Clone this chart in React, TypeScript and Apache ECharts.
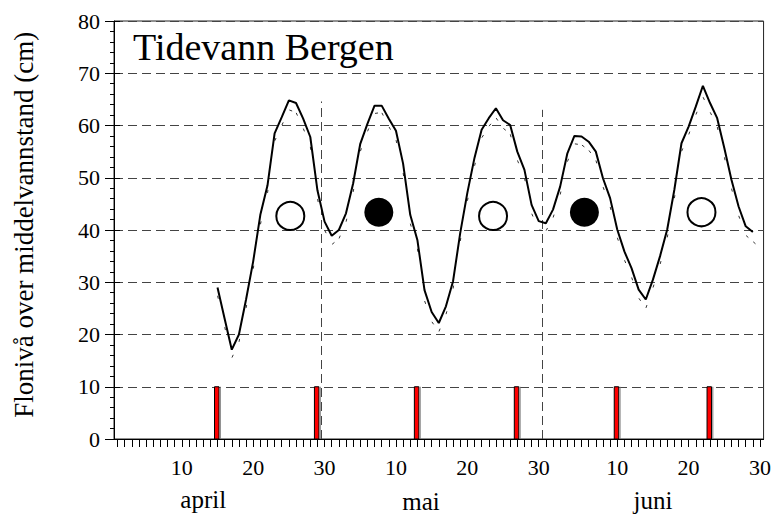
import React, { useEffect, useRef } from "react";
import * as echarts from "echarts";

// ---- data ----
const firstDay = 15; // day index (1 = 1 April)
const observedLevel = [
  29.0, 23.0, 17.1, 20.0, 26.7, 34.0, 42.9, 48.5, 58.5, 61.6,
  64.8, 64.3, 61.3, 57.8, 47.6, 41.6, 38.9, 40.0, 43.2, 48.9,
  56.5, 60.3, 63.8, 63.8, 61.3, 59.0, 52.7, 42.9, 38.1, 28.5,
  24.3, 22.2, 25.4, 30.2, 39.4, 47.1, 53.8, 59.2, 61.4, 63.3,
  61.0, 60.1, 55.0, 51.5, 44.8, 41.7, 41.3, 43.9, 48.3, 54.6,
  58.0, 57.9, 56.9, 55.0, 49.9, 46.1, 40.1, 35.9, 32.7, 28.6,
  26.7, 30.5, 35.0, 40.1, 47.7, 56.6, 59.8, 63.6, 67.6, 64.3,
  61.4, 55.7, 49.6, 44.5, 40.7, 39.6,
];
const predictedLevel = [
  27.5, 21.5, 15.5, 18.5, 25.0, 32.5, 41.0, 47.0, 57.0, 60.0,
  63.0, 62.5, 59.5, 56.0, 46.0, 40.0, 37.2, 38.3, 41.5, 47.2,
  55.0, 58.8, 62.3, 62.5, 59.8, 57.3, 51.0, 41.3, 36.5, 26.5,
  22.5, 20.5, 23.8, 28.7, 37.8, 45.5, 52.2, 57.6, 59.8, 61.5,
  59.5, 58.4, 53.4, 50.0, 43.2, 40.0, 39.8, 42.3, 46.7, 53.0,
  56.5, 56.3, 55.3, 53.4, 48.3, 44.5, 38.6, 34.3, 31.0, 27.0,
  25.0, 28.9, 33.4, 38.5, 46.0, 55.0, 58.2, 62.0, 65.5, 62.6,
  59.8, 54.0, 48.0, 42.8, 39.0, 37.8,
];
const phaseBarDays = [15, 29, 43, 57, 71, 84];
const phaseBarHeight = 10;
const fullMoonDays = [25.2, 53.6, 82.8];
const fullMoonLevels = [42.7, 42.7, 43.4];
const newMoonDays = [37.6, 66.4];
const newMoonLevels = [43.4, 43.4];
const monthBoundaryDays = [29.5, 60.5];
const monthBoundaryTops = [64.6, 63.0];
const totalDays = 91;
const tickLabelDays = [10, 20, 30, 40, 50, 60, 71, 81, 91];
const monthNames = ["april", "mai", "juni"];
const monthStartDays = [0, 30, 61];
const monthLabelDays = [13, 43.5, 76];
const monthLabelLevels = [-11.5, -11.9, -11.7];
const titleText = "Tidevann Bergen";
const yAxisName = "Flonivå over middelvannstand (cm)";

const SERIF = "Liberation Serif";

const dayOfMonth = (d: number) => {
  let m = 0;
  for (let i = 0; i < monthStartDays.length; i++) if (d > monthStartDays[i]) m = i;
  return d - monthStartDays[m];
};

export default function App() {
  const ref = useRef<HTMLDivElement>(null);
  useEffect(() => {
    if (!ref.current) return;
    const chart = echarts.init(ref.current, undefined, { renderer: "svg" });
    const dayIdx = observedLevel.map((_, i) => firstDay + i);
    const obsData = dayIdx.map((d, i) => [d, observedLevel[i]]);
    const predData = predictedLevel.map((v, i) => {
      const d = firstDay + i;
      if (i < predictedLevel.length - 1) return [d, v, d + 1, predictedLevel[i + 1]];
      const pv = predictedLevel[i - 1];
      return [d, v, d + 1, v + (v - pv)];
    });
    const catDays = Array.from({ length: totalDays }, (_, i) => String(i + 1));
    const labelSet = new Set(tickLabelDays);

    const option: any = {
      animation: false,
      backgroundColor: "#fff",
      textStyle: { fontFamily: SERIF },
      grid: { left: 114, top: 21, width: 650, height: 418, show: true, borderColor: "#222", borderWidth: 1, backgroundColor: "transparent" },
      xAxis: [
        {
          type: "value", min: 0.5, max: totalDays + 0.5,
          axisLine: { show: true, lineStyle: { color: "#000", width: 1 } },
          axisTick: { show: false }, axisLabel: { show: false }, splitLine: { show: false },
        },
        {
          type: "category", data: catDays, boundaryGap: true, position: "bottom",
          axisLine: { show: false },
          axisTick: { show: true, alignWithLabel: true, interval: 0, length: 8, lineStyle: { color: "#000", width: 1 } },
          axisLabel: {
            interval: (idx: number) => labelSet.has(idx + 1),
            formatter: (v: string) => String(dayOfMonth(Number(v))),
            fontSize: 22, fontFamily: SERIF, color: "#000", margin: 17,
          },
          splitLine: { show: false },
        },
      ],
      yAxis: [
        {
          type: "value", min: 0, max: 80, interval: 10,
          axisLine: { show: true, lineStyle: { color: "#000", width: 1 } },
          axisTick: { show: true, length: 9, lineStyle: { color: "#000" } },
          minorTick: { show: true, splitNumber: 5, length: 4, lineStyle: { color: "#000" } },
          axisLabel: { fontSize: 22, fontFamily: SERIF, color: "#000", margin: 14 },
          splitLine: { show: true, lineStyle: { color: "#444", width: 1, type: [9, 5] } },
        },
        {
          type: "value", min: 0, max: 80, interval: 10, position: "left",
          axisLine: { show: false },
          axisTick: { show: true, inside: true, length: 6, lineStyle: { color: "#000" } },
          axisLabel: { show: false }, splitLine: { show: false },
        },
      ],
      series: [
        {
          type: "line", xAxisIndex: 0, yAxisIndex: 0, data: obsData, symbol: "none", z: 5,
          lineStyle: { color: "#000", width: 2 },
          markLine: {
            silent: true, symbol: ["none", "none"], label: { show: false },
            lineStyle: { color: "#444", width: 1, type: [9, 5] },
            data: monthBoundaryDays.map((x, i) => [{ coord: [x, 0] }, { coord: [x, monthBoundaryTops[i]] }]),
          },
        },
        {
          type: "custom", xAxisIndex: 0, yAxisIndex: 0, data: predData, z: 4,
          encode: { x: [0, 2], y: [1, 3] },
          renderItem: (_p: any, api: any) => {
            const p0 = api.coord([api.value(0), api.value(1)]);
            const p1 = api.coord([api.value(2), api.value(3)]);
            let dx = p1[0] - p0[0], dy = p1[1] - p0[1];
            const len = Math.hypot(dx, dy) || 1;
            dx /= len; dy /= len;
            return {
              type: "line",
              shape: { x1: p0[0] + dx * 0.5, y1: p0[1] + dy * 0.5, x2: p0[0] + dx * 3.5, y2: p0[1] + dy * 3.5 },
              style: { stroke: "#333", lineWidth: 1 },
            };
          },
        },
        {
          type: "custom", xAxisIndex: 0, yAxisIndex: 0, z: 6,
          data: phaseBarDays.map((d) => [d, phaseBarHeight]),
          renderItem: (_p: any, api: any) => {
            const top = api.coord([api.value(0), api.value(1)]);
            const bot = api.coord([api.value(0), 0]);
            const cx = top[0];
            return {
              type: "group",
              children: [
                { type: "rect", shape: { x: cx - 3, y: top[1], width: 4.5, height: bot[1] - top[1] }, style: { fill: "#ff0000", stroke: "#000", lineWidth: 1 } },
                { type: "line", shape: { x1: cx + 2.8, y1: top[1], x2: cx + 2.8, y2: bot[1] }, style: { stroke: "#777", lineWidth: 1 } },
              ],
            };
          },
        },
        {
          type: "scatter", xAxisIndex: 0, yAxisIndex: 0, z: 7, symbol: "circle", symbolSize: 28,
          data: fullMoonDays.map((d, i) => [d, fullMoonLevels[i]]),
          itemStyle: { color: "#fff", borderColor: "#000", borderWidth: 2, opacity: 1 },
        },
        {
          type: "scatter", xAxisIndex: 0, yAxisIndex: 0, z: 7, symbol: "circle", symbolSize: 29,
          data: newMoonDays.map((d, i) => [d, newMoonLevels[i]]),
          itemStyle: { color: "#000", opacity: 1 },
        },
      ],
    };
    chart.setOption(option);

    const monthTexts = monthNames.map((name, i) => {
      const p = chart.convertToPixel({ xAxisIndex: 0, yAxisIndex: 0 }, [monthLabelDays[i], monthLabelLevels[i]]) as number[];
      return {
        type: "text", x: p[0], y: p[1],
        style: { text: name, fontSize: 25, fontFamily: SERIF, fill: "#000", align: "center", verticalAlign: "middle" },
      };
    });
    const yMid = chart.convertToPixel({ yAxisIndex: 0 }, 41) as number;
    chart.setOption({
      graphic: [
        {
          type: "text", x: 133, y: 46.5,
          style: { text: titleText, fontSize: 38, fontFamily: SERIF, fill: "#000", align: "left", verticalAlign: "middle" },
        },
        {
          type: "text", x: 24, y: yMid, rotation: Math.PI / 2,
          style: { text: yAxisName, fontSize: 27, fontFamily: SERIF, fill: "#000", align: "center", verticalAlign: "middle" },
        },
        ...monthTexts,
      ],
    });
    return () => chart.dispose();
  }, []);
  return <div ref={ref} style={{ position: "fixed", left: 0, top: 0, width: 774, height: 514 }} />;
}
